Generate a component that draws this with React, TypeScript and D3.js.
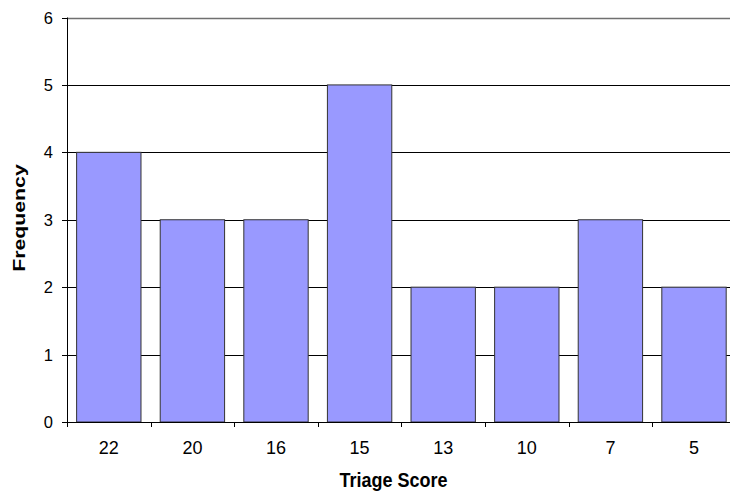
import React, { useEffect, useRef } from "react";
import * as d3 from "d3";

const categories = ["22", "20", "16", "15", "13", "10", "7", "5"];
const frequencies = [4, 3, 3, 5, 2, 2, 3, 2];
const yTicks = [0, 1, 2, 3, 4, 5, 6];

export default function App() {
  const ref = useRef<SVGSVGElement>(null);
  useEffect(() => {
    const svg = d3.select(ref.current);
    svg.selectAll("*").remove();
    const W = 730;
    const left = 67, top = 17.5, bottom = 422;
    const band = 83.6;
    const x = d3.scaleBand<string>().domain(categories).range([left, left + band * categories.length]).paddingInner(0.23).paddingOuter(0.115);
    const y = d3.scaleLinear().domain([0, 6]).range([bottom, top]);
    const font = "'Liberation Sans', Arial, sans-serif";

    // gridlines
    svg.append("g").selectAll("line").data(yTicks.filter(t => t > 0)).join("line")
      .attr("x1", left).attr("x2", W)
      .attr("y1", d => Math.round(y(d)) + 0.5).attr("y2", d => Math.round(y(d)) + 0.5)
      .attr("stroke", d => d === 6 ? "#707070" : "#000").attr("stroke-width", d => d === 6 ? 1.5 : 1);

    // bars
    svg.append("g").selectAll("rect").data(frequencies).join("rect")
      .attr("x", (_, i) => x(categories[i])!)
      .attr("y", d => y(d))
      .attr("width", x.bandwidth())
      .attr("height", d => bottom - y(d))
      .attr("fill", "#9999FF").attr("stroke", "#333").attr("stroke-width", 1);

    // y axis
    const ya = svg.append("g");
    ya.append("line").attr("x1", left + 0.5).attr("x2", left + 0.5).attr("y1", top).attr("y2", bottom).attr("stroke", "#000");
    ya.selectAll("line.t").data(yTicks).join("line").attr("class", "t")
      .attr("x1", left - 5).attr("x2", left)
      .attr("y1", d => Math.round(y(d)) + 0.5).attr("y2", d => Math.round(y(d)) + 0.5).attr("stroke", "#000");
    ya.selectAll("text").data(yTicks).join("text")
      .attr("x", 53).attr("y", d => y(d) + 6)
      .attr("text-anchor", "end").attr("font-family", font).attr("font-size", 16.5).text(d => d);

    // x axis
    const xa = svg.append("g");
    xa.append("line").attr("x1", left).attr("x2", W).attr("y1", bottom + 0.5).attr("y2", bottom + 0.5).attr("stroke", "#000");
    const bounds = d3.range(categories.length + 1).map(i => left + i * band);
    xa.selectAll("line.t").data(bounds).join("line").attr("class", "t")
      .attr("x1", d => Math.round(d) + 0.5).attr("x2", d => Math.round(d) + 0.5)
      .attr("y1", bottom).attr("y2", bottom + 5).attr("stroke", "#000");
    xa.selectAll("text").data(categories).join("text")
      .attr("x", d => x(d)! + x.bandwidth() / 2).attr("y", 454)
      .attr("text-anchor", "middle").attr("font-family", font).attr("font-size", 18).text(d => d);

    svg.append("text").attr("transform", "translate(393.5,487) scale(1,1.08)").attr("text-anchor", "middle")
      .attr("font-family", font).attr("font-size", 18).attr("font-weight", "bold").text("Triage Score");
    svg.append("text").attr("transform", "translate(25,218) rotate(-90) scale(1.25,1)").attr("text-anchor", "middle")
      .attr("font-family", font).attr("font-size", 17).attr("font-weight", "bold").text("Frequency");
  }, []);
  return (
    <svg ref={ref} width={730} height={495}
      style={{ position: "absolute", left: 0, top: 0, background: "#fff", overflow: "hidden" }} />
  );
}
